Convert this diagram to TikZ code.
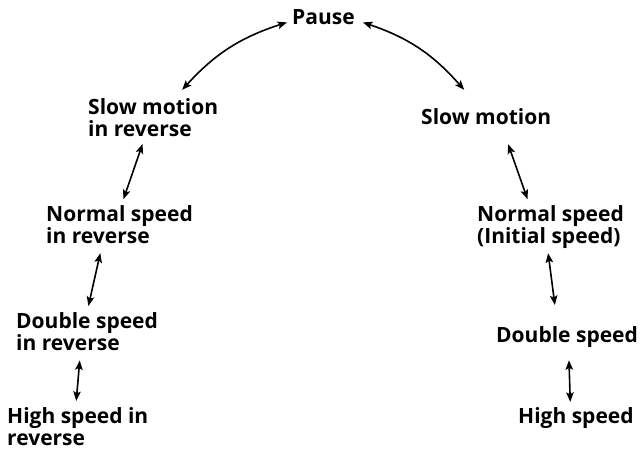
\documentclass[tikz,border=0pt]{standalone}
\usepackage{fontspec}
\setmainfont{Open Sans}
\usetikzlibrary{arrows.meta,positioning}
\tikzset{
>={Stealth[length=9.5pt,width=7.5pt,inset=2pt]},
  mode/.style={
    inner sep=0pt,
    anchor=base west,
    align=left,
    font=\fontsize{21}{22}\selectfont\bfseries},
  link/.style={draw, line width=1.6pt, <->},
}
\begin{document}
\begin{tikzpicture}[x=1pt,y=1pt]
	\useasboundingbox (0,0) rectangle (640,-451);
		% top
		\node[mode] (pause) at (292,-24) {Pause};
		
		% reverse side (base = last line)
		\node[mode] (slow-rev) at (88,-136) {Slow motion\\in reverse};
		\node[mode] (normal-rev) at (46,-243) {Normal speed\\in reverse};
		\node[mode] (double-rev) at (16,-350) {Double speed\\in reverse};
		\node[mode] (high-rev) at (7,-445) {High speed in\\reverse};
		
		% forward side
		\node[mode] (slow) at (421,-124) {Slow motion};
		\node[mode] (normal) at (477,-243) {Normal speed\\(Initial speed)};
		\node[mode] (double) at (496,-342) {Double speed};
		\node[mode] (high) at (518,-423) {High speed};
		
		\draw[link] ([xshift=-5pt,yshift=2pt]pause.south west)
			to[bend right=15] ([xshift=29pt,yshift=8pt]slow-rev.north);
		\draw[link] ([xshift=8pt,yshift=2pt]pause.south east)
			to[bend left=15] ([xshift=-22pt,yshift=18pt]slow.north);
		
		\draw[link, shorten <=8pt, shorten >=6pt] ([xshift=-8pt]slow-rev.south) -- ([xshift=2pt]normal-rev.north);
		\draw[link, shorten <=10pt, shorten >=6pt] ([xshift=-17pt]normal-rev.south) -- (double-rev.north);
		\draw[link, shorten <=10pt, shorten >=6pt] ([xshift=-6.5pt]double-rev.south) -- ([xshift=-2pt]high-rev.north);
		
		\draw[link, shorten <=21pt, shorten >=6pt] ([xshift=15pt]slow.south) -- ([xshift=-21pt]normal.north);
		\draw[link, shorten <=5pt, shorten >=21pt] ([xshift=-3pt]normal.south) -- ([xshift=-9.5pt]double.north);
		\draw[link, shorten <=13pt, shorten >=5pt] ([xshift=1.5pt]double.south) -- ([xshift=-5.5pt]high.north);
\end{tikzpicture}
\end{document}
